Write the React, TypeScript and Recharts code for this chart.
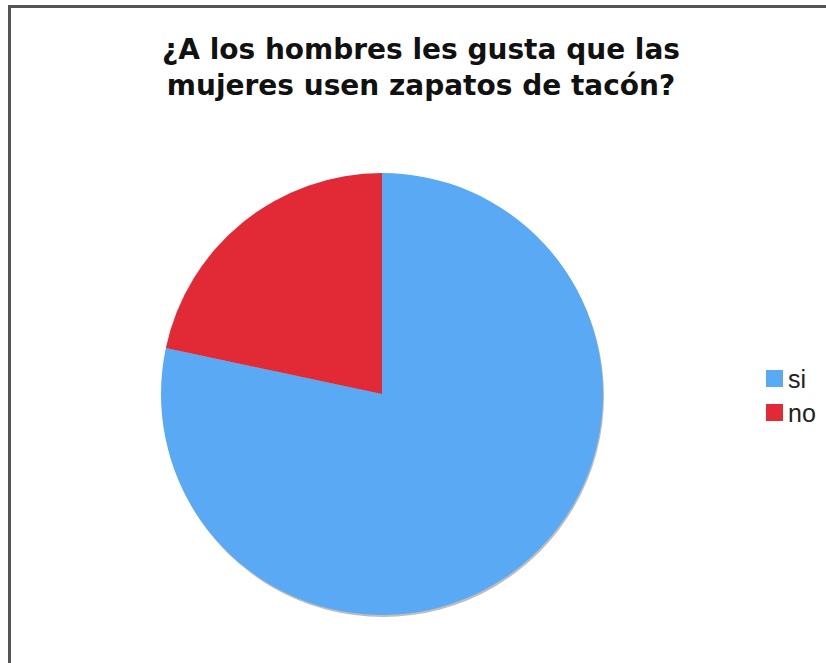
import React from "react";
import { PieChart, Pie, Cell, Legend } from "recharts";

const categories = ["si", "no"];
const values = [47, 13];
const colors = ["#59A9F5", "#E12A35"];
const title = ["¿A los hombres les gusta que las", "mujeres usen zapatos de tacón?"];

const data = categories.map((name, i) => ({ name, value: values[i] }));
const shadowData = [{ name: "shadow", value: 1 }];

const LegendContent = (props: any) => {
  const payload = (props.payload || []).filter((p: any) => categories.includes(p.value));
  payload.sort((a: any, b: any) => categories.indexOf(a.value) - categories.indexOf(b.value));
  return (
    <div>
      {payload.map((p: any, i: number) => (
        <div
          key={i}
          style={{ display: "flex", alignItems: "center", height: 34, fontFamily: "'Liberation Sans', Arial, sans-serif", fontSize: 25, color: "#222" }}
        >
          <span style={{ display: "inline-block", width: 17, height: 17, background: p.color, marginRight: 5 }} />
          <span style={{ position: "relative", top: 1 }}>{p.value}</span>
        </div>
      ))}
    </div>
  );
};

export default function App() {
  return (
    <div style={{ position: "absolute", left: 0, top: 0, width: 826, height: 663, background: "#fff", overflow: "hidden" }}>
      <div style={{ position: "absolute", left: 8, top: 5, width: 830, height: 670, borderLeft: "3px solid #555", borderTop: "3px solid #555" }} />
      <div
        style={{
          position: "absolute",
          left: 21,
          width: 800,
          top: 32,
          textAlign: "center",
          fontFamily: "'DejaVu Sans', Verdana, sans-serif",
          fontWeight: "bold",
          fontSize: 28,
          lineHeight: "36px",
          color: "#111",
        }}
      >
        <div>{title[0]}</div>
        <div>{title[1]}</div>
      </div>
      <div style={{ position: "absolute", left: 0, top: 0 }}>
        <PieChart width={826} height={663} margin={{ top: 0, right: 0, bottom: 0, left: 0 }}>
          <Pie
            data={shadowData}
            dataKey="value"
            cx={383}
            cy={396}
            outerRadius={221}
            startAngle={90}
            endAngle={-270}
            fill="#bdbdbd"
            stroke="none"
            isAnimationActive={false}
            legendType="none"
          />
          <Pie
            data={data}
            dataKey="value"
            nameKey="name"
            cx={382}
            cy={394}
            outerRadius={221}
            startAngle={90}
            endAngle={-270}
            stroke="none"
            isAnimationActive={false}
          >
            {data.map((d, i) => (
              <Cell key={d.name} fill={colors[i]} />
            ))}
          </Pie>
          <Legend
            layout="vertical"
            align="right"
            verticalAlign="middle"
            content={<LegendContent />}
            wrapperStyle={{ position: "absolute", left: 766, top: 361, width: 60 }}
          />
        </PieChart>
      </div>
    </div>
  );
}
